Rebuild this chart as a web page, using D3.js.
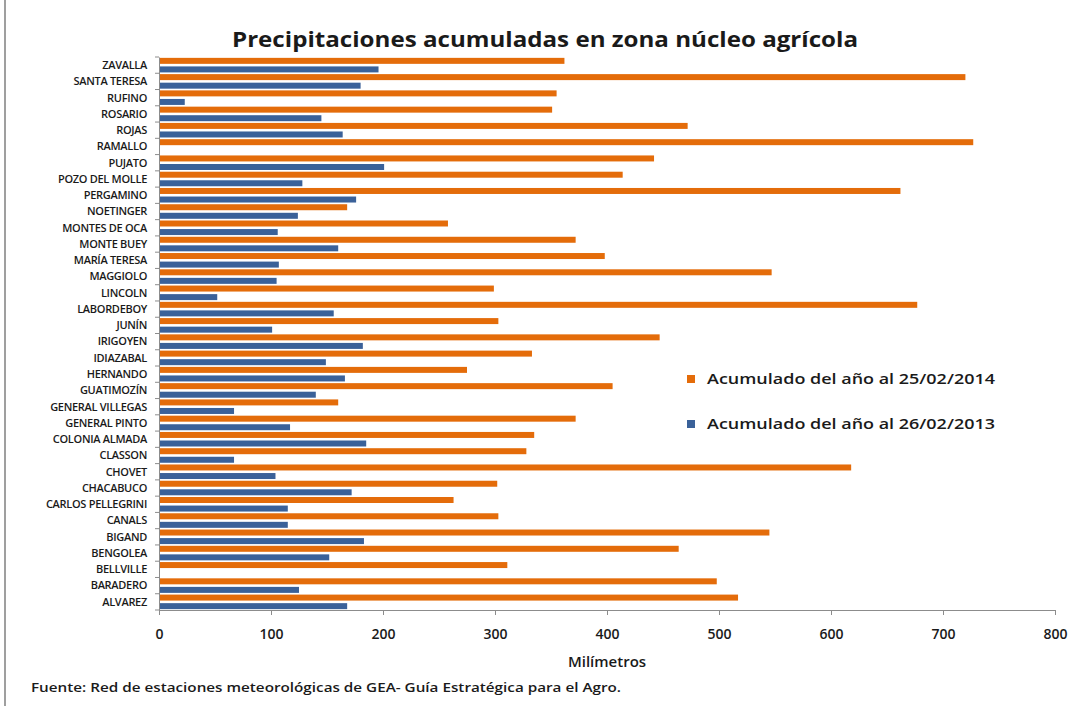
<!DOCTYPE html>
<html>
<head>
<meta charset="utf-8">
<script src="https://cdn.jsdelivr.net/npm/d3@7"></script>
<style>
  body { margin: 0; background: #fff; }
  text { font-family: "Open Sans", "Noto Sans", sans-serif; fill: #1a1a1a; }
</style>
</head>
<body>
<div id="chart"></div>
<script>
// stations, top to bottom as in the chart
var stations = ["ZAVALLA", "SANTA TERESA", "RUFINO", "ROSARIO", "ROJAS", "RAMALLO", "PUJATO",
  "POZO DEL MOLLE", "PERGAMINO", "NOETINGER", "MONTES DE OCA", "MONTE BUEY", "MARÍA TERESA",
  "MAGGIOLO", "LINCOLN", "LABORDEBOY", "JUNÍN", "IRIGOYEN", "IDIAZABAL", "HERNANDO",
  "GUATIMOZÍN", "GENERAL VILLEGAS", "GENERAL PINTO", "COLONIA ALMADA", "CLASSON", "CHOVET",
  "CHACABUCO", "CARLOS PELLEGRINI", "CANALS", "BIGAND", "BENGOLEA", "BELLVILLE", "BARADERO",
  "ALVAREZ"]

// Acumulado del año al 25/02/2014 (mm)
var acum2014 = [362, 720, 355, 351, 472, 727, 442, 414, 662, 168, 258, 372, 398,
  547, 299, 677, 303, 447, 333, 275, 405, 160, 372, 335, 328, 618,
  302, 263, 303, 545, 464, 311, 498, 517]

// Acumulado del año al 26/02/2013 (mm)
var acum2013 = [196, 180, 23, 145, 164, 0, 201, 128, 176, 124, 106, 160, 107,
  105, 52, 156, 101, 182, 149, 166, 140, 67, 117, 185, 67, 104,
  172, 115, 115, 183, 152, 0, 125, 168]

var seriesNames = ["Acumulado del año al 25/02/2014", "Acumulado del año al 26/02/2013"]
var seriesColors = ["#E46C0A", "#3A6199"]
var xTicks = [0, 100, 200, 300, 400, 500, 600, 700, 800]

var width = 1071
var height = 706

var svg = d3.select('#chart')
  .append('svg')
  .attr('width', width)
  .attr('height', height)

// frame of the chart area (only the left side shows in the picture)
svg.append('line')
  .attr('x1', 5).attr('x2', 5)
  .attr('y1', 0).attr('y2', height)
  .style('stroke', '#7f7f7f')
  .style('stroke-width', 1.5)

var x = d3.scaleLinear()
  .domain([0, 800])
  .range([159, 1055])

var y = d3.scaleBand()
  .domain(stations)
  .range([57, 610])

// two bars inside each band, 2014 on top
var ySub = d3.scaleBand()
  .domain([0, 1])
  .range([0, y.bandwidth()])
  .paddingInner(0.3)
  .paddingOuter(0.1)

var rows = stations.map(function (s, i) {
  return { name: s, values: [acum2014[i], acum2013[i]] }
})

var group = svg.selectAll('.row')
  .data(rows)
  .enter()
  .append('g')
  .attr('class', 'row')
  .attr('transform', function (d) { return 'translate(0,' + y(d.name) + ')' })

group.selectAll('rect')
  .data(function (d) { return d.values })
  .enter()
  .append('rect')
  .attr('x', x(0))
  .attr('y', function (d, i) { return ySub(i) })
  .attr('width', function (d) { return x(d) - x(0) })
  .attr('height', ySub.bandwidth())
  .style('fill', function (d, i) { return seriesColors[i] })

// y axis: labels and ticks between bands
var yAxis = svg.append('g')
  .attr('transform', 'translate(' + x(0) + ',0)')
  .call(d3.axisLeft(y).tickSize(0).tickPadding(12))

yAxis.select('.domain').style('stroke', '#8c8c8c')
yAxis.selectAll('text')
  .style('font-size', '11px')
  .style('font-weight', 600)
  .style('letter-spacing', '-0.3px')
  .attr('dy', '0.35em')

yAxis.selectAll('.bandtick')
  .data(d3.range(stations.length + 1))
  .enter()
  .append('line')
  .attr('class', 'bandtick')
  .attr('x1', -4).attr('x2', 0)
  .attr('y1', function (d) { return 57 + d * y.step() })
  .attr('y2', function (d) { return 57 + d * y.step() })
  .style('stroke', '#8c8c8c')

// x axis
var xAxis = svg.append('g')
  .attr('transform', 'translate(0,610)')
  .call(d3.axisBottom(x).tickValues(xTicks).tickSize(5).tickPadding(14).tickFormat(d3.format('d')))

xAxis.select('.domain').style('stroke', '#8c8c8c')
xAxis.selectAll('line').style('stroke', '#8c8c8c')
xAxis.selectAll('text')
  .style('font-size', '14px')
  .style('font-weight', 600)

// title
svg.append('text')
  .attr('x', 545)
  .attr('y', 47)
  .attr('text-anchor', 'middle')
  .attr('textLength', 626)
  .attr('lengthAdjust', 'spacingAndGlyphs')
  .style('font-size', '22px')
  .style('font-weight', 700)
  .text('Precipitaciones acumuladas en zona núcleo agrícola')

// axis title
svg.append('text')
  .attr('x', 607)
  .attr('y', 667)
  .attr('text-anchor', 'middle')
  .style('font-size', '15px')
  .style('font-weight', 600)
  .text('Milímetros')

// source note
svg.append('text')
  .attr('x', 31)
  .attr('y', 692)
  .attr('textLength', 590)
  .attr('lengthAdjust', 'spacingAndGlyphs')
  .style('font-size', '13px')
  .style('font-weight', 600)
  .text('Fuente: Red de estaciones meteorológicas de GEA- Guía Estratégica para el Agro.')

// legend
var legend = svg.selectAll('.legenditem')
  .data(seriesNames)
  .enter()
  .append('g')
  .attr('class', 'legenditem')
  .attr('transform', function (d, i) { return 'translate(687,' + (375 + i * 45) + ')' })

legend.append('rect')
  .attr('width', 8)
  .attr('height', 8)
  .style('fill', function (d, i) { return seriesColors[i] })

legend.append('text')
  .attr('x', 20)
  .attr('y', 9)
  .attr('textLength', 288)
  .attr('lengthAdjust', 'spacingAndGlyphs')
  .style('font-size', '15px')
  .style('font-weight', 600)
  .text(function (d) { return d })
</script>
</body>
</html>
